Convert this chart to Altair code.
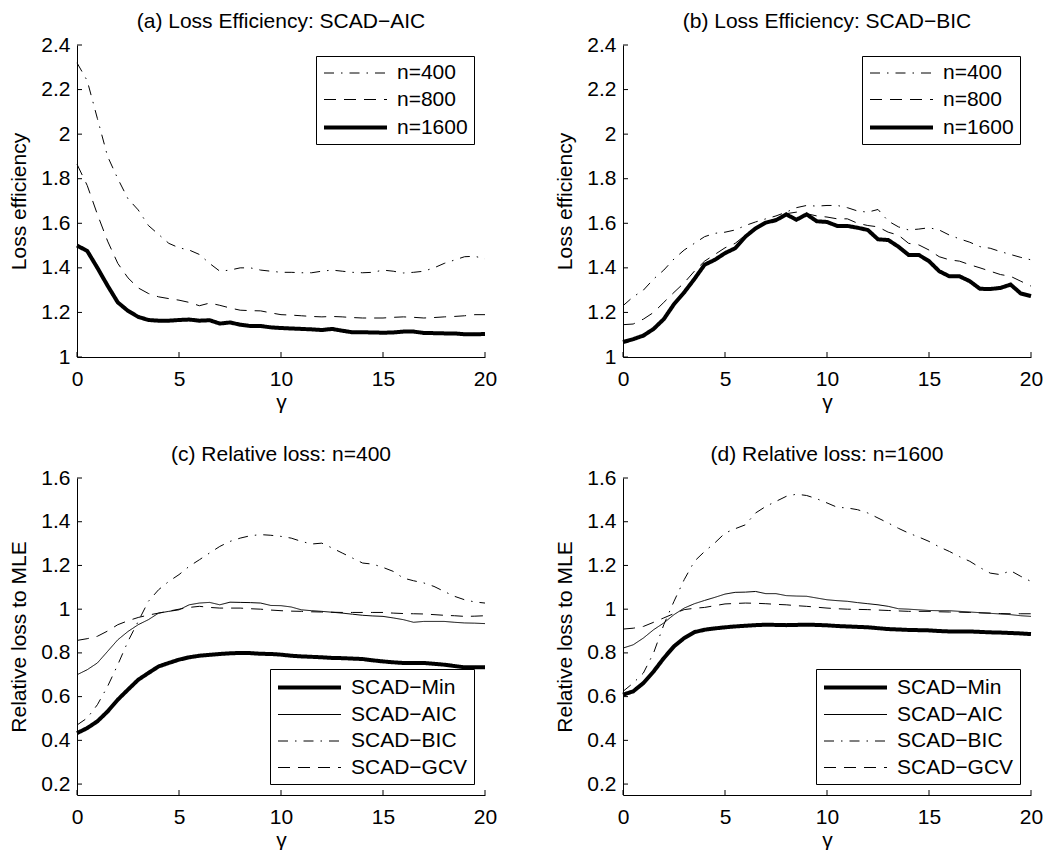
import altair as alt
import pandas as pd

FONT = "Liberation Sans, Arial, Helvetica, sans-serif"

gamma = [0, 0.5, 1, 1.5, 2, 2.5, 3, 3.5, 4, 4.5, 5, 5.5, 6, 6.5, 7, 7.5, 8, 8.5, 9, 9.5, 10,
         10.5, 11, 11.5, 12, 12.5, 13, 13.5, 14, 14.5, 15, 15.5, 16, 16.5, 17, 17.5, 18, 18.5,
         19, 19.5, 20]

x_ticks = [0, 5, 10, 15, 20]
y_ticks_top = [1, 1.2, 1.4, 1.6, 1.8, 2, 2.2, 2.4]
y_ticks_bottom = [0.2, 0.4, 0.6, 0.8, 1, 1.2, 1.4, 1.6]

n_labels = ["n=400", "n=800", "n=1600"]
scad_labels = ["SCAD−Min", "SCAD−AIC", "SCAD−BIC", "SCAD−GCV"]

# (a) Loss efficiency, SCAD-AIC
a_400 = [2.32, 2.24, 2.07, 1.90, 1.80, 1.71, 1.66, 1.59, 1.55, 1.51, 1.49, 1.48, 1.46, 1.42,
         1.385, 1.39, 1.40, 1.40, 1.39, 1.385, 1.38, 1.38, 1.378, 1.378, 1.385, 1.39, 1.385,
         1.38, 1.378, 1.38, 1.39, 1.385, 1.377, 1.38, 1.385, 1.40, 1.42, 1.435, 1.45, 1.452, 1.44]
a_800 = [1.865, 1.77, 1.64, 1.52, 1.42, 1.355, 1.31, 1.285, 1.27, 1.262, 1.255, 1.245, 1.23,
         1.242, 1.232, 1.22, 1.21, 1.208, 1.207, 1.198, 1.19, 1.188, 1.185, 1.182, 1.18, 1.182,
         1.18, 1.177, 1.175, 1.175, 1.175, 1.178, 1.18, 1.178, 1.175, 1.177, 1.18, 1.182,
         1.185, 1.19, 1.19]
a_1600 = [1.50, 1.476, 1.40, 1.32, 1.245, 1.207, 1.18, 1.166, 1.163, 1.163, 1.166, 1.168,
          1.163, 1.165, 1.15, 1.155, 1.145, 1.139, 1.139, 1.133, 1.13, 1.128, 1.126, 1.124,
          1.121, 1.126, 1.118, 1.111, 1.111, 1.11, 1.109, 1.11, 1.114, 1.114, 1.108, 1.107,
          1.106, 1.106, 1.102, 1.102, 1.103]

# (b) Loss efficiency, SCAD-BIC
b_400 = [1.23, 1.27, 1.30, 1.35, 1.39, 1.44, 1.48, 1.51, 1.54, 1.555, 1.56, 1.57, 1.59, 1.606,
         1.62, 1.633, 1.65, 1.67, 1.68, 1.677, 1.68, 1.68, 1.67, 1.655, 1.65, 1.662, 1.61,
         1.584, 1.57, 1.574, 1.58, 1.57, 1.547, 1.53, 1.515, 1.495, 1.488, 1.473, 1.46, 1.447,
         1.436]
b_800 = [1.145, 1.148, 1.17, 1.20, 1.245, 1.29, 1.333, 1.385, 1.43, 1.46, 1.49, 1.51, 1.547,
         1.58, 1.606, 1.62, 1.643, 1.65, 1.643, 1.633, 1.628, 1.62, 1.62, 1.60, 1.59, 1.584,
         1.56, 1.547, 1.51, 1.503, 1.48, 1.45, 1.436, 1.43, 1.414, 1.40, 1.385, 1.37, 1.362,
         1.34, 1.318]
b_1600 = [1.067, 1.08, 1.096, 1.126, 1.17, 1.237, 1.29, 1.35, 1.414, 1.436, 1.466, 1.488,
          1.54, 1.577, 1.603, 1.614, 1.64, 1.616, 1.64, 1.609, 1.606, 1.588, 1.588, 1.58, 1.57,
          1.528, 1.525, 1.495, 1.458, 1.458, 1.43, 1.385, 1.362, 1.362, 1.34, 1.306, 1.305,
          1.31, 1.325, 1.285, 1.273]

# (c) Relative loss, n=400
c_min = [0.433, 0.456, 0.487, 0.532, 0.586, 0.632, 0.677, 0.708, 0.738, 0.754, 0.769, 0.78,
         0.787, 0.791, 0.795, 0.798, 0.80, 0.799, 0.796, 0.795, 0.792, 0.787, 0.784, 0.782,
         0.78, 0.777, 0.776, 0.774, 0.772, 0.766, 0.761, 0.757, 0.754, 0.754, 0.754, 0.75,
         0.746, 0.74, 0.734, 0.734, 0.734]
c_aic = [0.70, 0.723, 0.754, 0.807, 0.86, 0.898, 0.929, 0.952, 0.982, 0.99, 0.997, 1.02,
         1.028, 1.031, 1.02, 1.032, 1.031, 1.03, 1.028, 1.017, 1.016, 1.01, 0.997, 0.993, 0.99,
         0.986, 0.982, 0.977, 0.972, 0.969, 0.967, 0.96, 0.952, 0.94, 0.944, 0.944, 0.944,
         0.94, 0.937, 0.936, 0.934]
c_bic = [0.47, 0.502, 0.563, 0.647, 0.746, 0.853, 0.944, 1.036, 1.089, 1.127, 1.158, 1.196,
         1.226, 1.257, 1.287, 1.31, 1.325, 1.336, 1.341, 1.338, 1.333, 1.325, 1.31, 1.298,
         1.302, 1.28, 1.257, 1.234, 1.211, 1.206, 1.191, 1.173, 1.142, 1.13, 1.12, 1.104,
         1.081, 1.059, 1.043, 1.033, 1.028]
c_gcv = [0.857, 0.865, 0.876, 0.9, 0.929, 0.947, 0.962, 0.973, 0.982, 0.991, 1.0, 1.008,
         1.013, 1.008, 1.005, 1.005, 1.005, 1.002, 1.0, 0.996, 0.993, 0.991, 0.99, 0.988,
         0.987, 0.986, 0.985, 0.985, 0.985, 0.985, 0.985, 0.982, 0.98, 0.979, 0.978, 0.975,
         0.972, 0.97, 0.967, 0.968, 0.97]

# (d) Relative loss, n=1600
d_min = [0.609, 0.624, 0.662, 0.715, 0.776, 0.83, 0.868, 0.895, 0.906, 0.912, 0.917, 0.921,
         0.924, 0.927, 0.929, 0.928, 0.927, 0.928, 0.929, 0.928, 0.926, 0.923, 0.921, 0.919,
         0.917, 0.913, 0.909, 0.907, 0.905, 0.904, 0.903, 0.9, 0.898, 0.898, 0.898, 0.896,
         0.894, 0.893, 0.891, 0.889, 0.886]
d_aic = [0.822, 0.837, 0.868, 0.906, 0.937, 0.975, 1.005, 1.025, 1.04, 1.054, 1.069, 1.077,
         1.078, 1.081, 1.071, 1.071, 1.062, 1.06, 1.059, 1.051, 1.043, 1.039, 1.036, 1.03,
         1.025, 1.02, 1.013, 1.002, 1.0, 0.997, 0.994, 0.993, 0.993, 0.99, 0.987, 0.984,
         0.981, 0.978, 0.975, 0.97, 0.967]
d_bic = [0.624, 0.662, 0.708, 0.8, 0.929, 1.036, 1.135, 1.219, 1.264, 1.303, 1.348, 1.368,
         1.386, 1.44, 1.47, 1.493, 1.516, 1.526, 1.52, 1.505, 1.486, 1.466, 1.463, 1.455, 1.44,
         1.417, 1.394, 1.37, 1.348, 1.33, 1.31, 1.285, 1.264, 1.24, 1.219, 1.19, 1.165, 1.158,
         1.176, 1.15, 1.127]
d_gcv = [0.909, 0.913, 0.921, 0.94, 0.96, 0.98, 0.998, 1.004, 1.008, 1.016, 1.024, 1.026,
         1.028, 1.027, 1.025, 1.022, 1.02, 1.016, 1.013, 1.009, 1.005, 1.002, 1.0, 0.999, 0.998,
         0.996, 0.994, 0.992, 0.99, 0.99, 0.99, 0.988, 0.987, 0.986, 0.985, 0.983, 0.982, 0.98,
         0.979, 0.979, 0.979]

DASHDOT = [10, 7, 1.5, 7]
DASHED = [12, 8]
SOLID = [1, 0]

PW = 408
# legend sample: a horizontal stroke, unit = sqrt(symbolSize)/2 px
LEGEND_PATH = "M-1,0H5"


def make_panel(title, ytitle, ydomain, yticks, labels, values, dashes, widths, orient, h):
    rows = []
    for lab, vals in zip(labels, values):
        for g, v in zip(gamma, vals):
            rows.append({"gamma": g, "value": v, "series": lab})
    df = pd.DataFrame(rows)
    xs = alt.Scale(domain=[0, 20], nice=False, zero=False)
    ys = alt.Scale(domain=ydomain, nice=False, zero=False)
    xax = alt.Axis(values=x_ticks, title="γ", labelPadding=11, titlePadding=2, format="~g")
    yax = alt.Axis(values=yticks, title=ytitle, labelPadding=7, titlePadding=11, format="~g")
    leg = alt.Legend(
        title=None, orient=orient, offset=11, symbolType=LEGEND_PATH, symbolSize=441,
        symbolStrokeColor="black", symbolFillColor="transparent",
        labelFontSize=21, labelFont=FONT, labelColor="black",
        padding=6, rowPadding=5.5, labelOffset=50, strokeColor="black", fillColor="white",
    )
    lines = alt.Chart(df).mark_line(color="black").encode(
        x=alt.X("gamma:Q", scale=xs, axis=xax),
        y=alt.Y("value:Q", scale=ys, axis=yax),
        strokeDash=alt.StrokeDash("series:O", sort=labels,
                                  scale=alt.Scale(type="ordinal", domain=labels, range=dashes),
                                  legend=leg),
        strokeWidth=alt.StrokeWidth("series:O", sort=labels,
                                    scale=alt.Scale(type="ordinal", domain=labels, range=widths),
                                    legend=leg),
        order=alt.Order("gamma:Q"),
    )
    ytk = alt.Chart(pd.DataFrame({"v": yticks})).mark_rule(color="black", strokeWidth=1).encode(
        y=alt.Y("v:Q", scale=ys, axis=yax),
        x=alt.value(0), x2=alt.value(5),
    )
    xtk = alt.Chart(pd.DataFrame({"v": x_ticks})).mark_rule(color="black", strokeWidth=1).encode(
        x=alt.X("v:Q", scale=xs, axis=xax),
        y=alt.value(h), y2=alt.value(h - 5),
    )
    return alt.layer(ytk, xtk, lines).properties(
        width=PW, height=h,
        title=alt.TitleParams(text=title, fontSize=21, font=FONT, fontWeight="normal",
                              color="black", anchor="middle", frame="group",
                              baseline="alphabetic", offset=-15),
    )


pa = make_panel("(a) Loss Efficiency: SCAD−AIC", "Loss efficiency", [1, 2.4], y_ticks_top,
                n_labels, [a_400, a_800, a_1600], [DASHDOT, DASHED, SOLID], [1, 1, 4],
                "top-right", 312)
pb = make_panel("(b) Loss Efficiency: SCAD−BIC", "Loss efficiency", [1, 2.4], y_ticks_top,
                n_labels, [b_400, b_800, b_1600], [DASHDOT, DASHED, SOLID], [1, 1, 4],
                "top-right", 312)
pc = make_panel("(c) Relative loss: n=400", "Relative loss to MLE", [0.15, 1.6], y_ticks_bottom,
                scad_labels, [c_min, c_aic, c_bic, c_gcv], [SOLID, SOLID, DASHDOT, DASHED],
                [4, 1, 1, 1], "bottom-right", 317)
pd_ = make_panel("(d) Relative loss: n=1600", "Relative loss to MLE", [0.15, 1.6], y_ticks_bottom,
                 scad_labels, [d_min, d_aic, d_bic, d_gcv], [SOLID, SOLID, DASHDOT, DASHED],
                 [4, 1, 1, 1], "bottom-right", 317)

chart = alt.concat(
    pa, pb, pc, pd_, columns=2, spacing={"row": 121, "column": 138}, bounds="flush"
).resolve_scale(
    strokeDash="independent", strokeWidth="independent", x="independent", y="independent"
).properties(
    padding={"left": 0, "top": 3, "right": 5, "bottom": 0}
).configure_view(stroke=None).configure_axis(
    domainColor="black", domainWidth=1, ticks=False, grid=False,
    labelFontSize=21, titleFontSize=21, labelFont=FONT, titleFont=FONT,
    labelColor="black", titleColor="black", titleFontWeight="normal",
    labelFlush=False, labelOverlap=False,
)

chart.save("out.html", embed_options={"renderer": "svg", "actions": False})
